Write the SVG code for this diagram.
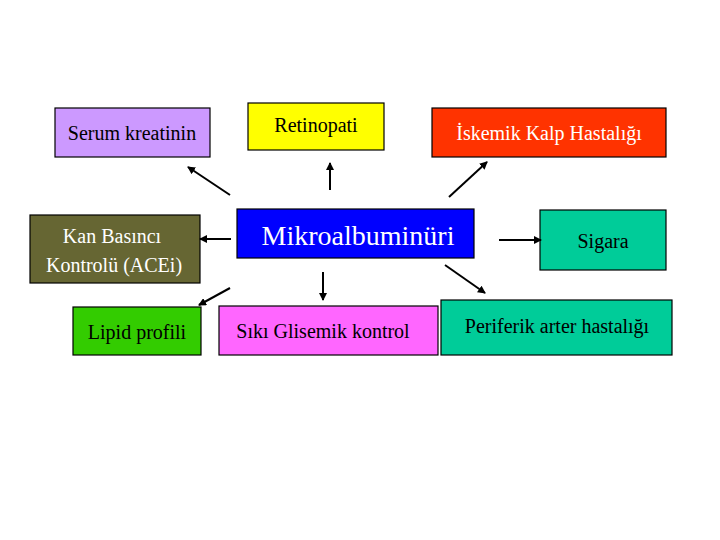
<svg xmlns="http://www.w3.org/2000/svg" width="720" height="540" viewBox="0 0 720 540">
<style>
rect{stroke:#000;stroke-width:1.2}
text{font-family:"Liberation Serif",serif;font-size:20px;text-anchor:middle}
.c line{stroke:#000;stroke-width:2;marker-end:url(#a)}
</style>
<defs><marker id="a" markerWidth="8" markerHeight="8" refX="7" refY="4" orient="auto" markerUnits="userSpaceOnUse"><path d="M0,0L8,4L0,8z"/></marker></defs>
<rect x="0" y="0" width="720" height="540" fill="#fff" style="stroke:none"/>
<g id="serum"><rect x="55" y="108" width="155" height="49" fill="#cc99ff"/><text x="132" y="140">Serum kreatinin</text></g>
<g id="retino"><rect x="248" y="103" width="136" height="47" fill="#ffff00"/><text x="316" y="132">Retinopati</text></g>
<g id="iskemik"><rect x="432" y="108" width="234" height="49" fill="#ff3300"/><text x="549" y="140" fill="#fff">İskemik Kalp Hastalığı</text></g>
<g id="kan"><rect x="30" y="215" width="170" height="68" fill="#666633"/><text x="112" y="243" fill="#fff">Kan Basıncı</text><text x="114" y="272" fill="#fff">Kontrolü (ACEi)</text></g>
<g id="mikro"><rect x="237" y="209" width="237" height="49" fill="#0000ff"/><text x="358" y="245" fill="#fff" style="font-size:28px">Mikroalbuminüri</text></g>
<g id="sigara"><rect x="540" y="210" width="126" height="60" fill="#00cc99"/><text x="603" y="248">Sigara</text></g>
<g id="lipid"><rect x="73" y="307" width="128" height="48" fill="#33cc00"/><text x="137" y="339">Lipid profili</text></g>
<g id="siki"><rect x="219" y="306" width="219" height="49" fill="#ff66ff"/><text x="323" y="338">Sıkı Glisemik kontrol</text></g>
<g id="periferik"><rect x="441" y="300" width="231" height="55" fill="#00cc99"/><text x="557" y="333">Periferik arter hastalığı</text></g>
<g class="c" id="connectors">
<line x1="230" y1="195" x2="188" y2="167"/>
<line x1="330" y1="190" x2="330" y2="163"/>
<line x1="449" y1="197" x2="487" y2="162"/>
<line x1="231" y1="239" x2="200" y2="239"/>
<line x1="499" y1="240" x2="541" y2="240"/>
<line x1="230" y1="288" x2="199" y2="305"/>
<line x1="323" y1="272" x2="323" y2="300"/>
<line x1="445" y1="265" x2="485" y2="293"/>
</g>
</svg>
